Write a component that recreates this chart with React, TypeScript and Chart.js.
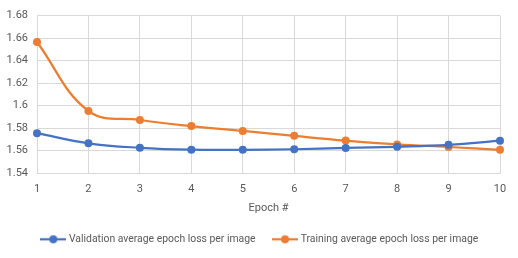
import React, { useEffect, useRef } from "react";
import { Chart, registerables } from "chart.js";

Chart.register(...registerables);

const epochs = ["1", "2", "3", "4", "5", "6", "7", "8", "9", "10"];
const validationLoss = [1.5755, 1.5665, 1.5625, 1.5608, 1.5607, 1.5612, 1.5624, 1.5634, 1.5651, 1.5688];
const trainingLoss = [1.6565, 1.5952, 1.5872, 1.5818, 1.5775, 1.5731, 1.5689, 1.5655, 1.5632, 1.5607];
const seriesNames = ["Validation average epoch loss per image", "Training average epoch loss per image"];
const seriesColors = ["#4472C4", "#ED7D31"];
const yMin = 1.54;
const yMax = 1.68;
const yStep = 0.02;
const xTitle = "Epoch #";

const FONT = "Roboto";
const TEXT = "#595959";
const GRID = "#D9D9D9";

function makeMarker(color: string): HTMLCanvasElement {
  const c = document.createElement("canvas");
  c.width = 26;
  c.height = 10;
  const ctx = c.getContext("2d")!;
  ctx.strokeStyle = color;
  ctx.lineWidth = 2.25;
  ctx.beginPath();
  ctx.moveTo(0, 5);
  ctx.lineTo(26, 5);
  ctx.stroke();
  ctx.fillStyle = color;
  ctx.beginPath();
  ctx.arc(13, 5, 4, 0, Math.PI * 2);
  ctx.fill();
  return c;
}

// shift the legend so it is centred like the original (Excel centres on the plot area)
const legendShift = {
  id: "legendShift",
  afterLayout(chart: any) {
    const lg = chart.legend;
    if (!lg) return;
    const dx = 10.5;
    lg.left += dx;
    lg.right += dx;
  },
};

export default function App() {
  const ref = useRef<HTMLCanvasElement | null>(null);

  useEffect(() => {
    if (!ref.current) return;
    const markers = seriesColors.map(makeMarker);
    const data = [validationLoss, trainingLoss];
    const chart = new Chart(ref.current, {
      type: "line",
      data: {
        labels: epochs,
        datasets: data.map((d, i) => ({
          label: seriesNames[i],
          data: d,
          borderColor: seriesColors[i],
          backgroundColor: seriesColors[i],
          borderWidth: 2.25,
          pointRadius: 4,
          pointHoverRadius: 4,
          pointBorderWidth: 0,
          tension: 0.4,
          fill: false,
        })),
      },
      plugins: [legendShift],
      options: {
        animation: false,
        responsive: true,
        maintainAspectRatio: false,
        layout: { padding: { left: 0, right: 18, top: 12, bottom: 3.5 } },
        plugins: {
          tooltip: { enabled: false },
          legend: {
            position: "bottom",
            labels: {
              usePointStyle: true,
              pointStyleWidth: 21,
              padding: 19,
              color: TEXT,
              font: { family: FONT, size: 10.4 },
              generateLabels: (ch: any) =>
                ch.data.datasets.map((ds: any, i: number) => ({
                  text: ds.label,
                  pointStyle: markers[i],
                  fillStyle: ds.borderColor,
                  strokeStyle: ds.borderColor,
                  lineWidth: 0,
                  hidden: false,
                  datasetIndex: i,
                  fontColor: TEXT,
                })),
            },
          },
        },
        scales: {
          x: {
            type: "category",
            offset: false,
            grid: { color: GRID, drawTicks: false, offset: false },
            border: { color: GRID },
            ticks: { color: TEXT, font: { family: FONT, size: 11 }, padding: 10, maxRotation: 0 },
            title: {
              display: true,
              text: xTitle,
              color: TEXT,
              font: { family: FONT, size: 11 },
              padding: { top: 4, bottom: 0 },
            },
            afterFit: (scale: any) => {
              scale.height = 42;
            },
          },
          y: {
            min: yMin,
            max: yMax,
            grid: { color: GRID, drawTicks: false },
            border: { display: false },
            ticks: {
              stepSize: yStep,
              color: TEXT,
              font: { family: FONT, size: 11 },
              padding: 9,
              callback: (v: any) => String(Number(Number(v).toFixed(2))),
            },
            afterFit: (scale: any) => {
              scale.width = 37;
            },
          },
        },
      },
    });
    return () => chart.destroy();
  }, []);

  return (
    <div style={{ position: "fixed", left: 0, top: 0, width: 518, height: 258, background: "#fff" }}>
      <canvas ref={ref} />
    </div>
  );
}
